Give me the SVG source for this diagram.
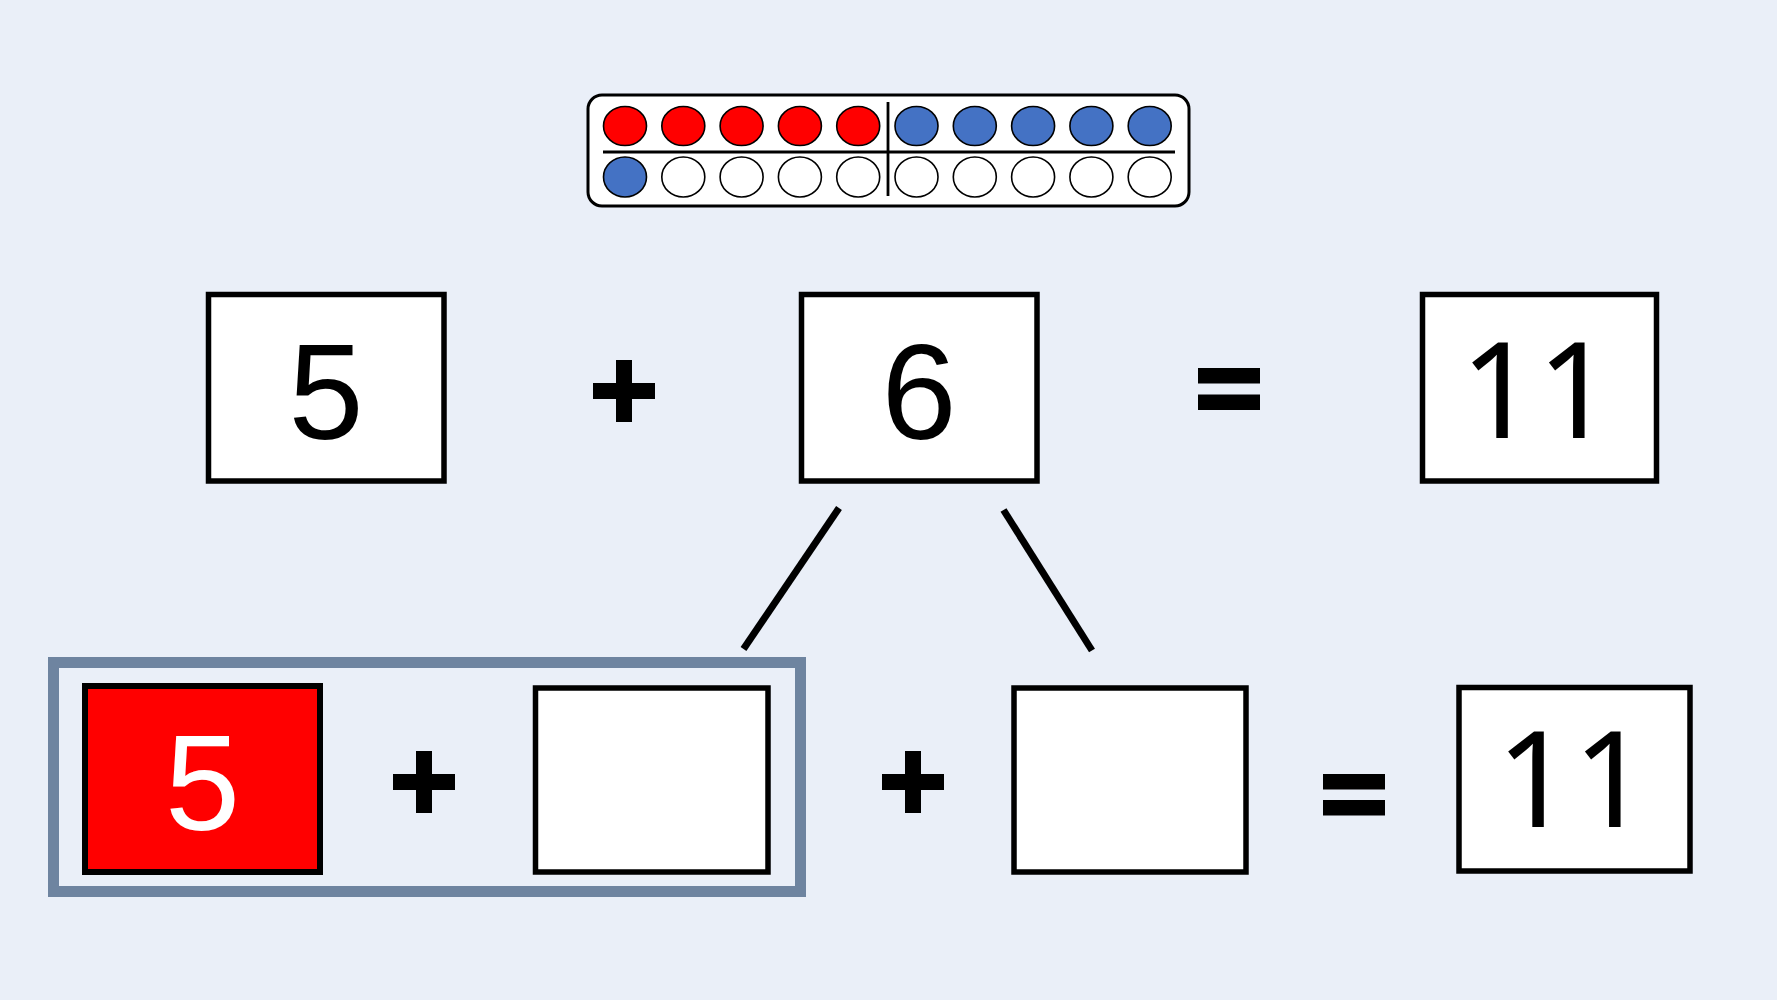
<svg xmlns="http://www.w3.org/2000/svg" width="1777" height="1000" viewBox="0 0 1777 1000">
<style>
.box{fill:#fff;stroke:#000;stroke-width:5.5}
.num{font-family:"Liberation Sans",Arial,sans-serif;font-size:135px;text-anchor:middle;fill:#000}
.one{font-family:"Noto Sans","Liberation Sans",sans-serif;font-size:134px;text-anchor:middle;fill:#000}
.bead{stroke:#000;stroke-width:1.6}
.r{fill:#ff0000}.b{fill:#4472c4}.w{fill:#fff}
.op{fill:#000}
.conn{stroke:#000;stroke-width:7;fill:none}
</style>
<rect width="1777" height="1000" fill="#eaeff8"/>
<g id="rekenrek">
<rect x="588" y="95" width="601" height="111" rx="14" fill="#fff" stroke="#000" stroke-width="3"/>
<line x1="603" y1="152" x2="1175" y2="152" stroke="#000" stroke-width="2.8"/>
<line x1="888" y1="102" x2="888" y2="196" stroke="#000" stroke-width="2.8"/>
<g class="bead">
<ellipse class="r" cx="625" cy="126" rx="21.5" ry="19.5"/>
<ellipse class="r" cx="683.3" cy="126" rx="21.5" ry="19.5"/>
<ellipse class="r" cx="741.6" cy="126" rx="21.5" ry="19.5"/>
<ellipse class="r" cx="799.9" cy="126" rx="21.5" ry="19.5"/>
<ellipse class="r" cx="858.2" cy="126" rx="21.5" ry="19.5"/>
<ellipse class="b" cx="916.5" cy="126" rx="21.5" ry="19.5"/>
<ellipse class="b" cx="974.8" cy="126" rx="21.5" ry="19.5"/>
<ellipse class="b" cx="1033.1" cy="126" rx="21.5" ry="19.5"/>
<ellipse class="b" cx="1091.4" cy="126" rx="21.5" ry="19.5"/>
<ellipse class="b" cx="1149.7" cy="126" rx="21.5" ry="19.5"/>
<ellipse class="b" cx="625" cy="177" rx="21.5" ry="20"/>
<ellipse class="w" cx="683.3" cy="177" rx="21.5" ry="20"/>
<ellipse class="w" cx="741.6" cy="177" rx="21.5" ry="20"/>
<ellipse class="w" cx="799.9" cy="177" rx="21.5" ry="20"/>
<ellipse class="w" cx="858.2" cy="177" rx="21.5" ry="20"/>
<ellipse class="w" cx="916.5" cy="177" rx="21.5" ry="20"/>
<ellipse class="w" cx="974.8" cy="177" rx="21.5" ry="20"/>
<ellipse class="w" cx="1033.1" cy="177" rx="21.5" ry="20"/>
<ellipse class="w" cx="1091.4" cy="177" rx="21.5" ry="20"/>
<ellipse class="w" cx="1149.7" cy="177" rx="21.5" ry="20"/>
</g>
</g>
<g id="box-top-5"><rect class="box" x="208.5" y="294.5" width="235.5" height="186.5"/><text class="num" x="326" y="439">5</text></g>
<g id="plus-top"><rect class="op" x="593" y="383" width="62" height="16"/><rect class="op" x="616" y="360" width="16" height="62"/></g>
<g id="box-top-6"><rect class="box" x="801.5" y="294.5" width="235.5" height="186.5"/><text class="num" x="919" y="439">6</text></g>
<g id="equals-top"><rect class="op" x="1198" y="368" width="62" height="15.5"/><rect class="op" x="1198" y="394.5" width="62" height="15.5"/></g>
<g id="box-top-11"><rect class="box" x="1422.5" y="294.5" width="234" height="186.5"/><text class="one" x="1537" y="438">11</text></g>
<g id="connectors">
<line class="conn" x1="839" y1="508" x2="743.5" y2="649"/>
<line class="conn" x1="1003.5" y1="510" x2="1092" y2="650.5"/>
</g>
<g id="group-frame"><rect x="53.5" y="662.5" width="747" height="229" fill="none" stroke="#6e84a0" stroke-width="11"/></g>
<g id="box-bottom-red-5"><rect x="85" y="686" width="235" height="186" fill="#ff0000" stroke="#000" stroke-width="6"/><text class="num" x="202.5" y="830" style="fill:#fff">5</text></g>
<g id="plus-bottom-1"><rect class="op" x="393" y="774" width="62" height="16"/><rect class="op" x="416" y="751" width="16" height="62"/></g>
<g id="box-bottom-empty-1"><rect class="box" x="535.5" y="688" width="232.5" height="184"/></g>
<g id="plus-bottom-2"><rect class="op" x="882" y="774" width="62" height="16"/><rect class="op" x="905" y="751" width="16" height="62"/></g>
<g id="box-bottom-empty-2"><rect class="box" x="1014" y="688" width="232" height="184"/></g>
<g id="equals-bottom"><rect class="op" x="1323" y="774" width="62" height="15.5"/><rect class="op" x="1323" y="800" width="62" height="15.5"/></g>
<g id="box-bottom-11"><rect class="box" x="1459" y="687.5" width="231" height="183.5"/><text class="one" x="1573" y="827">11</text></g>
</svg>
